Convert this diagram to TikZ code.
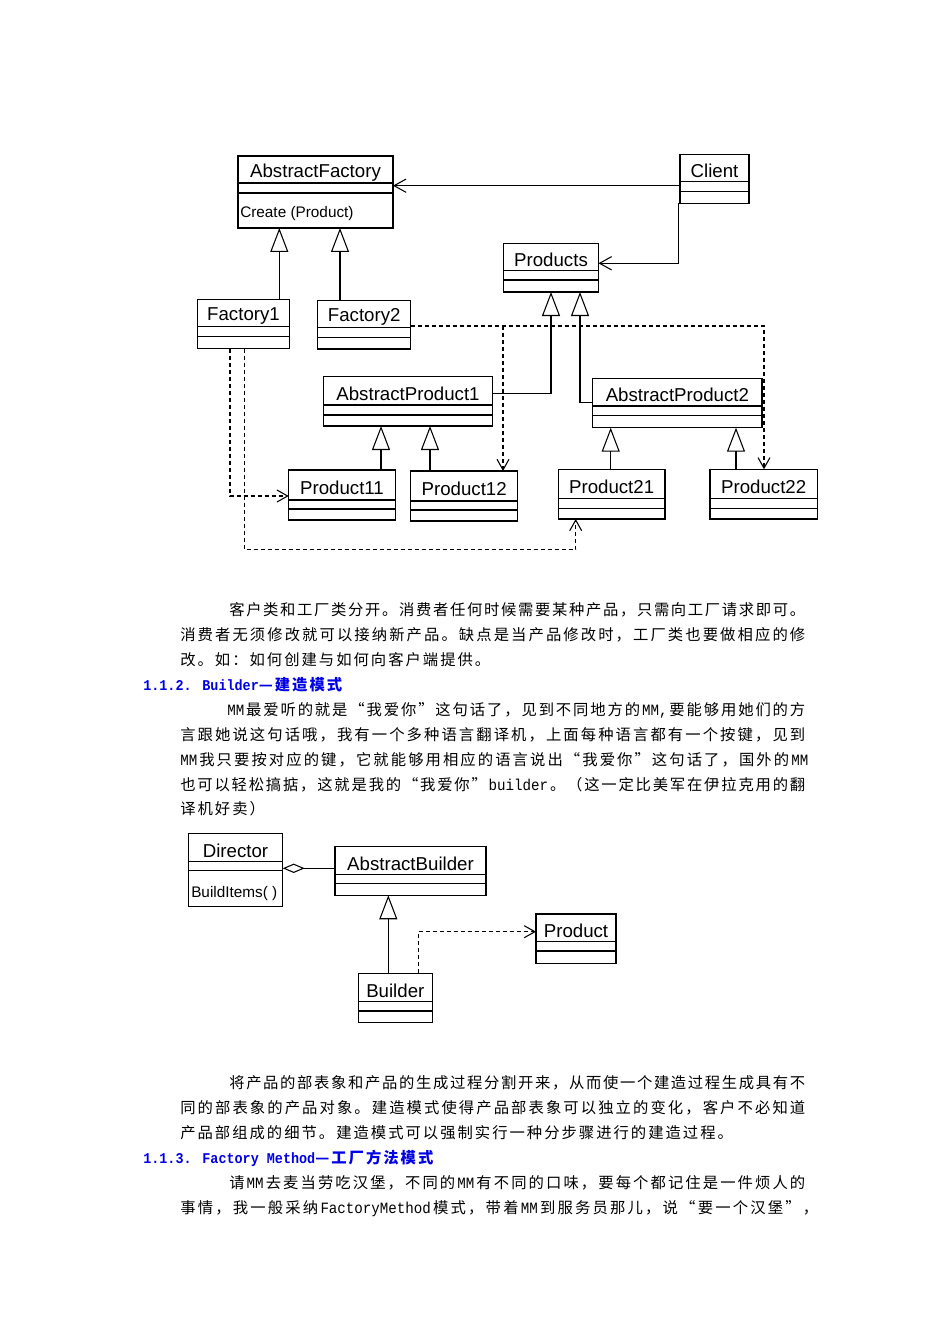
\documentclass[tikz,border=0pt]{standalone}
\usepackage{fontspec}
\setmainfont{Liberation Sans}
\newfontfamily\cjkfont{Noto Sans CJK SC}
\newfontfamily\latfont[FakeStretch=0.9]{Liberation Mono}
\usepackage{tikz}
\usetikzlibrary{arrows.meta}
\definecolor{headblue}{RGB}{0,0,230}

\newdimen\pxu \pxu=0.75pt
\newdimen\cjkgap \cjkgap=1pt
\newdimen\cjkgapn \cjkgapn=1.5pt

\makeatletter
% latin words inside the chinese text
\newcommand{\lat}[1]{{\latfont\fontsize{11.8pt}{13pt}\selectfont #1}}
% one justified line of text, width in px
\newcommand{\jrow}[2]{\hbox to #1\pxu{\@tfor\jc:=#2\do{\hbox{\jc}\hskip\cjkgap plus 1fil}\unskip}}
% last line of a paragraph
\newcommand{\nrow}[1]{\hbox{\@tfor\jc:=#1\do{\hbox{\jc}\hskip\cjkgapn}\unskip}}
\makeatother

% class box: name, left, top, right, bottom, first rule, second rule, title
\newcommand{\umlclass}[8]{%
  \node[classbox, minimum width={(#4-#2)*0.75pt}, minimum height={(#5-#3)*0.75pt}]
    (#1) at ({(#2+#4)/2},{(#3+#5)/2}) {};
  \draw[rule] (#1.west |- 0,#6) -- (#1.east |- 0,#6);
  \draw[rule] (#1.west |- 0,#7) -- (#1.east |- 0,#7);
  \node[classname] (#1-title) at ({(#2+#4)/2},{(#3+#6)/2+3}) {#8};
}

\begin{document}
\begin{tikzpicture}[x=0.75pt, y=-0.75pt,
  classbox/.style={draw, line width=0.9pt, inner sep=0pt, outer sep=0pt},
  rule/.style={line width=0.9pt},
  classname/.style={inner sep=0pt, font=\fontsize{14pt}{16pt}\selectfont},
  opsname/.style={inner sep=0pt, anchor=west, font=\fontsize{11.5pt}{13pt}\selectfont},
  assoc/.style={line width=0.8pt, -{Straight Barb[length=9pt,width=10pt]}},
  inherit/.style={line width=0.8pt, -{Triangle[open,length=18pt,width=13.5pt]}},
  depend/.style={line width=0.8pt, dash pattern=on 3pt off 2.25pt, -{Straight Barb[length=8pt,width=9pt]}},
  aggreg/.style={line width=0.8pt, -{Diamond[open,length=16.5pt,width=7pt]}},
  bodytext/.style={anchor=base west, inner sep=0pt, font=\cjkfont\fontsize{11.5pt}{13pt}\selectfont},
  headtext/.style={anchor=base west, inner sep=0pt, text=headblue, font=\cjkfont\bfseries\fontsize{11.5pt}{13pt}\selectfont}]
  \useasboundingbox (0,0) rectangle (950,1344);

  % abstract factory diagram
  \umlclass{af}{238}{156}{393}{228}{183}{193}{AbstractFactory}
  \node[opsname] (af-op) at (240,213.5) {Create (Product)};
  \umlclass{client}{680}{154.5}{749}{203.5}{181.7}{191.7}{Client}
  \umlclass{products}{503.5}{243.5}{598.5}{292}{270.7}{280}{Products}
  \umlclass{f1}{197.5}{299.5}{289.5}{348.5}{326.7}{336.7}{Factory1}
  \umlclass{f2}{317.7}{300.5}{410.7}{349}{327.7}{337.7}{Factory2}
  \umlclass{ap1}{323.3}{376.7}{492.7}{426}{405}{415}{AbstractProduct1}
  \umlclass{ap2}{592.7}{378.3}{762}{427.7}{406}{415.7}{AbstractProduct2}
  \umlclass{p11}{288.7}{470}{395.3}{520}{500}{509}{Product11}
  \umlclass{p12}{410.7}{471}{517.7}{521}{501}{510}{Product12}
  \umlclass{p21}{558.3}{469.3}{665}{519}{498.3}{508.3}{Product21}
  \umlclass{p22}{710}{469.3}{817.3}{519}{498.3}{508.3}{Product22}

  % client uses factory and products
  \draw[assoc] (client.west |- 0,185.7) -- (af.east |- 0,185.7);
  \draw[assoc] (678.3,0 |- client.south) |- (products.east |- 0,263.3);

  % generalizations
  \draw[inherit] (279.3,0 |- f1.north) -- (279.3,0 |- af.south);
  \draw[inherit] (340,0 |- f2.north) -- (340,0 |- af.south);
  \draw[inherit] (ap1.east |- 0,393.3) -| (551,0 |- products.south);
  \draw[inherit] (ap2.west |- 0,402.3) -| (580,0 |- products.south);
  \draw[inherit] (381,0 |- p11.north) -- (381,0 |- ap1.south);
  \draw[inherit] (430,0 |- p12.north) -- (430,0 |- ap1.south);
  \draw[inherit] (610.7,0 |- p21.north) -- (610.7,0 |- ap2.south);
  \draw[inherit] (736,0 |- p22.north) -- (736,0 |- ap2.south);

  % factories create products
  \coordinate (f1turn) at (575.7,549.3);
  \coordinate (f2split) at (503,326);
  \draw[depend] (230,0 |- f1.south) |- (p11.west |- 0,496);
  \draw[depend] (244.3,0 |- f1.south) |- (f1turn) -- (f1turn |- p21.south);
  \draw[depend] (f2.east |- 0,326) -| (764,0 |- p22.north);
  \draw[depend] (f2split) -- (f2split |- p12.north);

  % text
  \node[bodytext] (p1l1) at (229,615.5) {\jrow{576}{客户类和工厂类分开。消费者任何时候需要某种产品，只需向工厂请求即可。}};
  \node[bodytext] (p1l2) at (180,640.5) {\jrow{625}{消费者无须修改就可以接纳新产品。缺点是当产品修改时，工厂类也要做相应的修}};
  \node[bodytext] (p1l3) at (180,665.5) {\nrow{改。如：如何创建与如何向客户端提供。}};
  \node[headtext] (h112) at (143,690.5) {{\latfont\fontsize{11.2pt}{13pt}\selectfont 1.1.2. Builder}\nrow{—建造模式}};
  \node[bodytext] (p2l1) at (227,715.5) {\jrow{578}{{\lat{MM}}最爱听的就是“我爱你”这句话了，见到不同地方的{\lat{MM,}}要能够用她们的方}};
  \node[bodytext] (p2l2) at (180,740.5) {\jrow{625}{言跟她说这句话哦，我有一个多种语言翻译机，上面每种语言都有一个按键，见到}};
  \node[bodytext] (p2l3) at (180,765.5) {\jrow{628}{{\lat{MM}}我只要按对应的键，它就能够用相应的语言说出“我爱你”这句话了，国外的{\lat{MM}}}};
  \node[bodytext] (p2l4) at (180,790.5) {\jrow{625}{也可以轻松搞掂，这就是我的“我爱你”{\lat{builder}}。（这一定比美军在伊拉克用的翻}};
  \node[bodytext] (p2l5) at (180,814.5) {\nrow{译机好卖）}};

  % builder diagram
  \umlclass{director}{188.3}{833.3}{282.7}{906.7}{861.7}{870.7}{Director}
  \node[opsname] (director-op) at (191,894) {BuildItems( )};
  \umlclass{abuilder}{335}{846.7}{486}{895.3}{874.3}{883.3}{AbstractBuilder}
  \umlclass{product}{536}{914}{616}{963.3}{941.7}{951}{Product}
  \umlclass{builder}{358.3}{973.3}{432.3}{1022.7}{1001.7}{1011}{Builder}

  \draw[aggreg] (abuilder.west |- 0,868.3) -- (director.east |- 0,868.3);
  \draw[inherit] (388.3,0 |- builder.north) -- (388.3,0 |- abuilder.south);
  \draw[depend] (418.3,0 |- builder.north) |- (product.west |- 0,931.7);

  % text
  \node[bodytext] (p3l1) at (229,1088) {\jrow{576}{将产品的部表象和产品的生成过程分割开来，从而使一个建造过程生成具有不}};
  \node[bodytext] (p3l2) at (180,1113) {\jrow{625}{同的部表象的产品对象。建造模式使得产品部表象可以独立的变化，客户不必知道}};
  \node[bodytext] (p3l3) at (180,1138) {\nrow{产品部组成的细节。建造模式可以强制实行一种分步骤进行的建造过程。}};
  \node[headtext] (h113) at (143,1163) {{\latfont\fontsize{11.2pt}{13pt}\selectfont 1.1.3. Factory Method}\nrow{—工厂方法模式}};
  \node[bodytext] (p4l1) at (229,1188) {\jrow{576}{请{\lat{MM}}去麦当劳吃汉堡，不同的{\lat{MM}}有不同的口味，要每个都记住是一件烦人的}};
  \node[bodytext] (p4l2) at (180,1213) {\jrow{638}{事情，我一般采纳{\lat{FactoryMethod}}模式，带着{\lat{MM}}到服务员那儿，说“要一个汉堡”，}};
\end{tikzpicture}
\end{document}
